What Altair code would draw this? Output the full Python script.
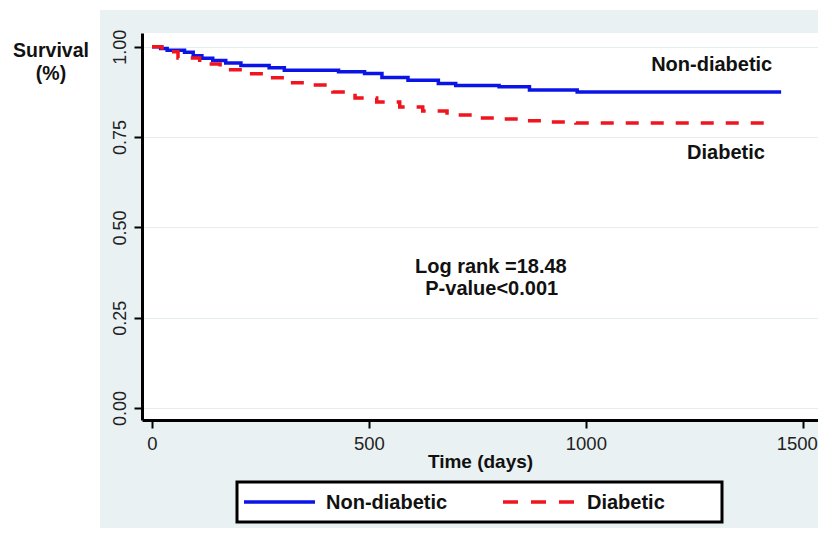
import altair as alt
import pandas as pd

# ---- data (Kaplan-Meier step points) ----
groups = ["Non-diabetic", "Diabetic"]

nd_time = [0, 20, 35, 75, 95, 115, 140, 170, 205, 270, 305, 430, 490, 530, 590, 660, 700, 800, 870, 980, 1450]
nd_surv = [1.0, 0.995, 0.990, 0.985, 0.975, 0.968, 0.962, 0.955, 0.948, 0.942, 0.935, 0.931, 0.926, 0.915, 0.907, 0.898, 0.893, 0.889, 0.880, 0.875, 0.875]

d_time = [0, 23, 60, 110, 157, 210, 265, 318, 357, 417, 468, 518, 571, 624, 680, 737, 797, 862, 919, 977, 1435]
d_surv = [1.0, 0.986, 0.969, 0.952, 0.936, 0.925, 0.914, 0.900, 0.894, 0.875, 0.858, 0.847, 0.833, 0.822, 0.811, 0.803, 0.800, 0.795, 0.792, 0.789, 0.789]

y_ticks = [0.0, 0.25, 0.5, 0.75, 1.0]
x_ticks = [0, 500, 1000, 1500]

y_title = ["Survival", "(%)"]
x_title = "Time (days)"
log_rank_text = "Log rank =18.48"
p_value_text = "P-value<0.001"

# ---- build table ----
rows = []
for t, s in zip(nd_time, nd_surv):
    rows.append({"time": t, "surv": s, "group": groups[0]})
for t, s in zip(d_time, d_surv):
    rows.append({"time": t, "surv": s, "group": groups[1]})
df = pd.DataFrame(rows)

FONT = "Liberation Sans"
BLUE = "#0a14e6"
RED = "#f0141e"
BG = "#e9f1f3"

x_scale = alt.Scale(domain=[-23, 1535], nice=False, zero=False)
y_scale = alt.Scale(domain=[-0.033, 1.038], nice=False, zero=False)

color_scale = alt.Scale(domain=groups, range=[BLUE, RED])
dash_scale = alt.Scale(domain=groups, range=[[1, 0], [13, 12]])

lines = alt.Chart(df).mark_line(interpolate="step-after", strokeWidth=3.5).encode(
    x=alt.X("time:Q", scale=x_scale,
            axis=alt.Axis(values=x_ticks, format="d", title=x_title, grid=False,
                          domainColor="black", domainWidth=3,
                          tickColor="black", tickWidth=2, tickSize=8,
                          labelFont=FONT, labelFontSize=18.5, labelColor="#222",
                          labelPadding=6,
                          labelOffset={"condition": {"test": "datum.value == 1500", "value": -6}, "value": 0},
                          titleFont=FONT, titleFontSize=19,
                          titleFontWeight="bold", titleColor="#111", titlePadding=0)),
    y=alt.Y("surv:Q", scale=y_scale,
            axis=alt.Axis(values=y_ticks, format=".2f", grid=True, gridColor="#e6eded",
                          gridWidth=1, domainColor="black", domainWidth=3,
                          tickColor="black", tickWidth=2, tickSize=8,
                          labelFont=FONT, labelFontSize=18, labelColor="#222",
                          labelAngle=270, labelAlign="center", labelBaseline="bottom",
                          labelPadding=5, title=None)),
    color=alt.Color("group:N", scale=color_scale, legend=None),
    strokeDash=alt.StrokeDash("group:N", scale=dash_scale, legend=None),
    detail="group:N",
)

# white strips outside the grey panel
left_strip = alt.Chart(pd.DataFrame({"k": [0]})).mark_rect(color="white").encode(
    x=alt.value(-142), x2=alt.value(-42), y=alt.value(-33), y2=alt.value(520)
)
top_strip = alt.Chart(pd.DataFrame({"k": [0]})).mark_rect(color="white").encode(
    x=alt.value(-142), x2=alt.value(690), y=alt.value(-33), y2=alt.value(-23)
)

# y-axis title (horizontal, top-left)
ytitle = alt.Chart(pd.DataFrame({"k": [0]})).mark_text(
    font=FONT, fontSize=19.5, fontWeight="bold", color="#111",
    align="center", baseline="middle", lineHeight=23
).encode(x=alt.value(-91), y=alt.value(18), text=alt.value(y_title))

# annotations
ann = pd.DataFrame({
    "time": [1290, 1323, 781, 783],
    "surv": [0.950, 0.706, 0.390, 0.330],
    "label": [groups[0], groups[1], log_rank_text, p_value_text],
})
ann_text = alt.Chart(ann).mark_text(font=FONT, fontSize=20, fontWeight="bold",
                                    color="#111", align="center", baseline="middle").encode(
    x=alt.X("time:Q", scale=x_scale),
    y=alt.Y("surv:Q", scale=y_scale),
    text="label:N",
)

# legend box
leg_box = alt.Chart(pd.DataFrame({"k": [0]})).mark_rect(
    fill="white", stroke="black", strokeWidth=3
).encode(x=alt.value(95), x2=alt.value(580), y=alt.value(449), y2=alt.value(489))

leg_lines = pd.DataFrame({"group": groups, "x0": [102, 361], "x1": [173, 433]})
leg_line_marks = alt.Chart(leg_lines).mark_rule(strokeWidth=3.5).encode(
    x=alt.X("x0:Q", scale=None), x2="x1:Q",
    y=alt.value(469),
    color=alt.Color("group:N", scale=color_scale, legend=None),
    strokeDash=alt.StrokeDash("group:N", scale=alt.Scale(domain=groups, range=[[1, 0], [15, 13]]), legend=None),
)
leg_labels = pd.DataFrame({"group": groups, "x": [184, 445]})
leg_text = alt.Chart(leg_labels).mark_text(font=FONT, fontSize=20, fontWeight="bold",
                                           color="#111", align="left", baseline="middle").encode(
    x=alt.X("x:Q", scale=None), y=alt.value(470), text="group:N"
)

chart = alt.layer(
    left_strip, top_strip, lines, ytitle, ann_text, leg_box, leg_line_marks, leg_text
).resolve_scale(color="shared", strokeDash="independent").properties(
    width=676, height=387,
    autosize=alt.AutoSizeParams(type="none"),
    padding={"left": 134, "top": 25, "right": 0, "bottom": 108},
    background=BG,
).configure_view(fill="white", stroke=None)

chart.save("out.html", embed_options={"renderer": "svg", "actions": False})
